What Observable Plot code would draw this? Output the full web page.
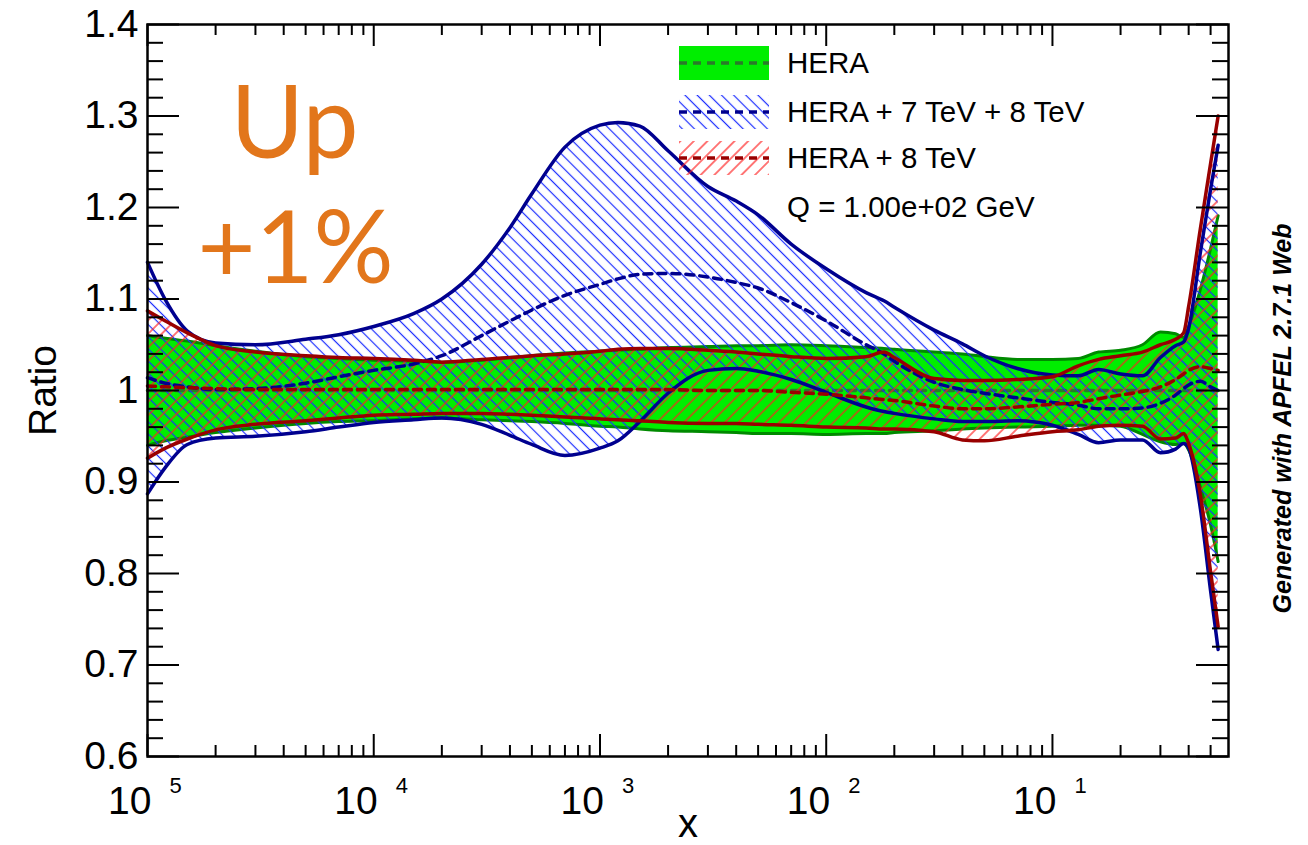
<!DOCTYPE html>
<html><head><meta charset="utf-8">
<script src="https://cdn.jsdelivr.net/npm/d3@7"></script>
<script src="https://cdn.jsdelivr.net/npm/@observablehq/plot@0.6"></script>
<style>html,body{margin:0;background:#fff}svg{display:block}</style>
</head><body><div id="chart"></div>
<script>
// ---- data ----
const xs = [1e-5,1.2e-5,1.5e-5,2e-5,3e-5,5e-5,7e-5,1e-4,1.5e-4,2e-4,3e-4,4e-4,5e-4,7e-4,1e-3,1.2e-3,1.5e-3,2e-3,3e-3,4e-3,5e-3,7e-3,1e-2,1.5e-2,1.8e-2,2e-2,3e-2,4e-2,5e-2,7e-2,0.1,0.13,0.16,0.2,0.25,0.3,0.35,0.38,0.4,0.45,0.5,0.54];

const heraHigh = [1.060,1.057,1.054,1.049,1.043,1.037,1.035,1.033,1.032,1.031,1.033,1.036,1.038,1.041,1.043,1.044,1.045,1.047,1.048,1.049,1.049,1.050,1.049,1.047,1.046,1.045,1.042,1.040,1.037,1.034,1.034,1.035,1.042,1.044,1.050,1.064,1.062,1.058,1.070,1.110,1.155,1.191];
const heraMid  = [1.000,1.000,1.000,1.000,1.000,1.000,1.000,1.000,1.000,1.000,1.000,1.000,1.000,1.000,1.000,1.000,1.000,1.000,1.000,1.000,1.000,1.000,1.000,1.000,1.000,1.000,1.000,1.000,1.000,1.000,1.000,1.000,1.000,1.000,1.000,1.000,1.000,1.000,1.000,1.000,1.000,1.000];
const heraLow  = [0.940,0.945,0.949,0.954,0.959,0.964,0.966,0.967,0.969,0.970,0.968,0.967,0.966,0.964,0.961,0.960,0.958,0.956,0.955,0.954,0.953,0.953,0.952,0.953,0.953,0.954,0.956,0.958,0.959,0.960,0.961,0.962,0.962,0.961,0.952,0.944,0.941,0.942,0.935,0.895,0.853,0.813];

const h78High = [1.140,1.099,1.065,1.052,1.050,1.056,1.061,1.070,1.084,1.100,1.138,1.178,1.215,1.266,1.290,1.293,1.289,1.262,1.223,1.207,1.192,1.160,1.133,1.107,1.098,1.091,1.066,1.051,1.038,1.024,1.017,1.016,1.023,1.018,1.016,1.036,1.049,1.053,1.068,1.150,1.220,1.268];
const h78Mid  = [1.014,1.008,1.004,1.001,1.002,1.008,1.015,1.022,1.029,1.038,1.060,1.076,1.088,1.104,1.116,1.122,1.127,1.128,1.124,1.118,1.112,1.096,1.076,1.050,1.040,1.032,1.009,1.001,0.997,0.992,0.987,0.984,0.980,0.980,0.981,0.986,0.995,1.002,1.006,1.010,1.004,1.000];
const h78Low  = [0.887,0.916,0.941,0.948,0.950,0.955,0.960,0.965,0.968,0.970,0.963,0.951,0.941,0.929,0.937,0.945,0.966,0.997,1.022,1.024,1.021,1.012,0.998,0.982,0.977,0.975,0.969,0.966,0.966,0.967,0.962,0.952,0.943,0.946,0.946,0.932,0.936,0.942,0.937,0.872,0.781,0.717];

const h8High = [1.087,1.076,1.063,1.049,1.042,1.038,1.036,1.035,1.033,1.031,1.034,1.036,1.038,1.040,1.043,1.045,1.046,1.046,1.044,1.042,1.040,1.037,1.035,1.037,1.042,1.036,1.013,1.011,1.011,1.012,1.015,1.027,1.034,1.038,1.042,1.050,1.056,1.063,1.092,1.176,1.248,1.300];
const h8Mid  = [1.005,1.004,1.003,1.002,1.001,1.001,1.001,1.001,1.001,1.001,1.001,1.001,1.001,1.001,1.001,1.001,1.001,1.001,1.000,1.000,1.000,0.998,0.996,0.992,0.990,0.989,0.983,0.980,0.980,0.982,0.985,0.987,0.991,0.995,0.999,1.004,1.012,1.018,1.022,1.026,1.024,1.022];
const h8Low  = [0.926,0.937,0.947,0.957,0.963,0.967,0.970,0.973,0.974,0.975,0.975,0.974,0.973,0.971,0.969,0.968,0.967,0.965,0.964,0.964,0.963,0.962,0.960,0.959,0.958,0.958,0.955,0.946,0.945,0.950,0.955,0.957,0.961,0.962,0.961,0.947,0.948,0.953,0.942,0.887,0.802,0.742];

const yTicks = [0.6,0.7,0.8,0.9,1.0,1.1,1.2,1.3,1.4];
const yTickLabels = ["0.6","0.7","0.8","0.9","1","1.1","1.2","1.3","1.4"];
const xTicks = [1e-5,1e-4,1e-3,1e-2,1e-1];
const xTickBase = ["10","10","10","10","10"];
const xTickExp = ["5","4","3","2","1"];
const legendLabels = ["HERA","HERA + 7 TeV + 8 TeV","HERA + 8 TeV","Q = 1.00e+02 GeV"];
const xLabel = "x", yLabel = "Ratio";
const sideNote = "Generated with APFEL 2.7.1 Web";
const noteLines = ["Up","+1%"];

// ---- derived tables ----
const rows = xs.map((x,i)=>({x,
  gLo:heraLow[i], gMid:heraMid[i], gHi:heraHigh[i],
  bLo:h78Low[i], bMid:h78Mid[i], bHi:h78High[i],
  rLo:h8Low[i], rMid:h8Mid[i], rHi:h8High[i]}));
const yMinor = d3.range(31,70).filter(k=>k%5!==0).map(k=>k/50);
const xMinor = [];
for (let e=-5;e<=-1;e++) for (let k=2;k<=9;k++){const v=k*Math.pow(10,e); if (v<=0.6) xMinor.push(v);}
const yTickTable = yTicks.map((v,i)=>({v,label:yTickLabels[i]}));
const xTickTable = xTicks.map((v,i)=>({v,base:xTickBase[i],exp:xTickExp[i]}));

const W=1308,H=845,mL=147,mR=80,mT=24,mB=89;
const iW=W-mL-mR, iH=H-mT-mB;
const curve="monotone-x";
const FONT="'Liberation Sans', Arial, Helvetica, sans-serif";
const GREEN="#00ee00", GREEN_EDGE="#008a00", GREEN_DASH="#2a7a2a";
const NAVY="#00008f", DRED="#990000";
const BLUE_PH="#010203", RED_PH="#030201";

const svg = Plot.plot({
  width:W, height:H, marginLeft:mL, marginRight:mR, marginTop:mT, marginBottom:mB,
  style:{fontFamily:FONT, background:"white"},
  x:{type:"log", domain:[1e-5,0.6], axis:null},
  y:{domain:[0.6,1.4], axis:null},
  marks:[
    Plot.areaY(rows,{x:"x",y1:"gLo",y2:"gHi",fill:GREEN,curve}),
    Plot.line(rows,{x:"x",y:"gHi",stroke:GREEN_EDGE,strokeWidth:3,curve}),
    Plot.line(rows,{x:"x",y:"gLo",stroke:GREEN_EDGE,strokeWidth:3,curve}),
    Plot.line(rows,{x:"x",y:"gMid",stroke:GREEN_DASH,strokeWidth:3.5,strokeDasharray:"8,6",curve}),
    Plot.areaY(rows,{x:"x",y1:"bLo",y2:"bHi",fill:BLUE_PH,curve}),
    Plot.areaY(rows,{x:"x",y1:"rLo",y2:"rHi",fill:RED_PH,curve}),
    Plot.line(rows,{x:"x",y:"bHi",stroke:NAVY,strokeWidth:3.5,curve}),
    Plot.line(rows,{x:"x",y:"bLo",stroke:NAVY,strokeWidth:3.5,curve}),
    Plot.line(rows,{x:"x",y:"bMid",stroke:NAVY,strokeWidth:3.5,strokeDasharray:"8,6",curve}),
    Plot.line(rows,{x:"x",y:"rHi",stroke:DRED,strokeWidth:3.5,curve}),
    Plot.line(rows,{x:"x",y:"rLo",stroke:DRED,strokeWidth:3.5,curve}),
    Plot.line(rows,{x:"x",y:"rMid",stroke:DRED,strokeWidth:3.5,strokeDasharray:"8,6",curve}),
    // ROOT style inward ticks on all four sides
    Plot.tickY(yTicks,{y:d=>d,insetRight:iW-32,stroke:"black",strokeWidth:2}),
    Plot.tickY(yTicks,{y:d=>d,insetLeft:iW-32,stroke:"black",strokeWidth:2}),
    Plot.tickY(yMinor,{y:d=>d,insetRight:iW-16,stroke:"black",strokeWidth:2}),
    Plot.tickY(yMinor,{y:d=>d,insetLeft:iW-16,stroke:"black",strokeWidth:2}),
    Plot.tickX(xTicks,{x:d=>d,insetTop:iH-22,stroke:"black",strokeWidth:2}),
    Plot.tickX(xTicks,{x:d=>d,insetBottom:iH-22,stroke:"black",strokeWidth:2}),
    Plot.tickX(xMinor,{x:d=>d,insetTop:iH-11,stroke:"black",strokeWidth:2}),
    Plot.tickX(xMinor,{x:d=>d,insetBottom:iH-11,stroke:"black",strokeWidth:2}),
    Plot.frame({stroke:"black",strokeWidth:2.5}),
    // tick labels
    Plot.text(yTickTable,{y:"v",text:"label",frameAnchor:"left",textAnchor:"end",dx:-9,fontSize:39,fill:"black"}),
    Plot.text(xTickTable,{x:"v",text:"base",frameAnchor:"bottom",textAnchor:"end",lineAnchor:"bottom",dx:4,dy:57,fontSize:39,fill:"black"}),
    Plot.text(xTickTable,{x:"v",text:"exp",frameAnchor:"bottom",textAnchor:"start",lineAnchor:"bottom",dx:22,dy:36,fontSize:22,fill:"black"}),
    // axis titles
    Plot.text([xLabel],{text:d=>d,frameAnchor:"bottom",textAnchor:"middle",lineAnchor:"bottom",dy:80,fontSize:40,fill:"black"}),
    Plot.text([yLabel],{text:d=>d,frameAnchor:"left",textAnchor:"middle",rotate:-90,dx:-104,fontSize:39,fill:"black"}),
    Plot.text([sideNote],{text:d=>d,frameAnchor:"right",textAnchor:"middle",rotate:-90,dx:54,dy:28,fontSize:25,fontWeight:"bold",fontStyle:"italic",fill:"black"}),
    // orange annotation
    Plot.text([noteLines[0]],{text:d=>d,frameAnchor:"top-left",textAnchor:"middle",lineAnchor:"bottom",dx:147,dy:133,fontSize:100,fill:"#e2761b",fontFamily:"Lato, 'Open Sans', sans-serif"}),
    Plot.text([noteLines[1]],{text:d=>d,frameAnchor:"top-left",textAnchor:"middle",lineAnchor:"bottom",dx:148,dy:258,fontSize:100,fill:"#e2761b",fontFamily:"Lato, 'Open Sans', sans-serif"})
  ]
});

// hatch patterns
const s = d3.select(svg);
const defs = s.insert("defs",":first-child");
function hatch(id,color,spacing,angle){
  const p = defs.append("pattern").attr("id",id).attr("patternUnits","userSpaceOnUse")
    .attr("width",spacing).attr("height",spacing).attr("patternTransform",`rotate(${angle})`);
  p.append("line").attr("x1",spacing/2).attr("x2",spacing/2).attr("y1",-1).attr("y2",spacing+1)
    .attr("stroke",color).attr("stroke-width",1.2);
}
hatch("hatchBlue","#1a2cff",8.6,-45);
hatch("hatchRed","#ff2020",9.6,45);
s.selectAll(`[fill="${BLUE_PH}"]`).attr("fill","url(#hatchBlue)");
s.selectAll(`[fill="${RED_PH}"]`).attr("fill","url(#hatchRed)");

// legend
const lg = s.append("g").attr("font-family",FONT).attr("font-size",29.5).attr("text-anchor","start");
const rowsY=[63,112,158];
const sw=[{fill:GREEN,dash:GREEN_DASH},{fill:"url(#hatchBlue)",dash:NAVY},{fill:"url(#hatchRed)",dash:DRED}];
sw.forEach((d,i)=>{
  lg.append("rect").attr("x",679).attr("y",rowsY[i]-17).attr("width",90).attr("height",34).attr("fill",d.fill);
  lg.append("line").attr("x1",679).attr("x2",769).attr("y1",rowsY[i]).attr("y2",rowsY[i])
    .attr("stroke",d.dash).attr("stroke-width",3.5).attr("stroke-dasharray","8,6");
});
legendLabels.forEach((t,i)=>{
  lg.append("text").attr("x",787).attr("y",[63,112,158,207][i]).attr("dy","0.35em")
    .attr("text-anchor","start").attr("fill","black").text(t);
});

document.getElementById("chart").appendChild(svg);
</script>
</body></html>
